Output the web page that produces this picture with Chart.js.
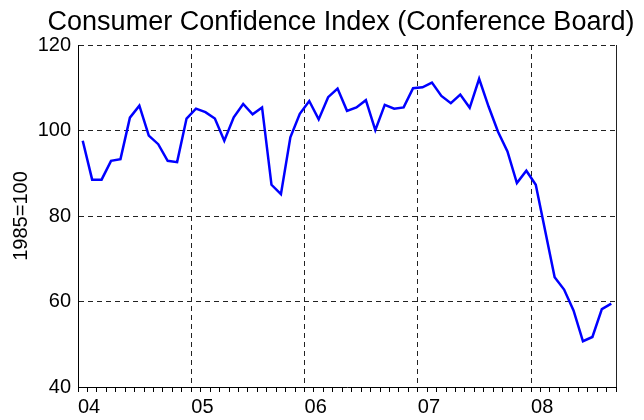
<!DOCTYPE html>
<html>
<head>
<meta charset="utf-8">
<script src="https://cdn.jsdelivr.net/npm/chart.js@4/dist/chart.umd.min.js"></script>
<style>
  html,body{margin:0;padding:0;background:#fff;}
  #wrap{width:644px;height:420px;position:relative;}
</style>
</head>
<body>
<div id="wrap"><canvas id="cci"></canvas></div>
<script>
const TITLE='Consumer Confidence Index (Conference Board)';
const Y_LABEL='1985=100';
const yearLabels=['04','05','06','07','08'];
// monthly index, Jan 2004 .. Sep 2008
const cci2004=[97.6,88.5,88.5,92.9,93.3,103.0,105.8,98.8,96.8,92.9,92.6,102.8];
const cci2005=[105.1,104.3,102.8,97.6,103.1,106.2,103.8,105.4,87.3,85.1,98.4,103.9];
const cci2006=[106.9,102.6,107.8,109.8,104.6,105.4,107.1,100.1,106.0,105.1,105.4,109.9];
const cci2007=[110.1,111.2,108.1,106.4,108.4,105.3,112.1,105.6,99.7,95.1,87.7,90.6];
const cci2008=[87.3,76.5,65.7,62.8,57.9,50.7,51.7,58.2,59.5];
const yTicks=[40,60,80,100,120];

const values=[...cci2004,...cci2005,...cci2006,...cci2007,...cci2008];
// each month sits in the middle of its slot on a month-based linear axis
const points=values.map((v,i)=>({x:i+0.5,y:v}));
const FONT='"Liberation Sans", Arial, Helvetica, sans-serif';
const DASH=[5,4];

const titlePlugin={
  id:'topTitle',
  afterDraw(chart){
    const c=chart.ctx;
    c.save();
    c.font='27px '+FONT;
    c.fillStyle='#000';
    c.textAlign='center';
    c.textBaseline='alphabetic';
    c.fillText(TITLE,341,30);
    c.restore();
  }
};

new Chart(document.getElementById('cci'),{
  type:'line',
  data:{datasets:[{
    label:'CCI',data:points,borderColor:'#0000ff',backgroundColor:'transparent',
    borderWidth:2.5,pointRadius:0,tension:0,fill:false
  }]},
  options:{
    responsive:true,maintainAspectRatio:false,animation:false,devicePixelRatio:1,
    layout:{padding:{top:45,right:28,left:0,bottom:0}},
    plugins:{legend:{display:false},tooltip:{enabled:false}},
    scales:{
      x:{
        type:'linear',min:0,max:12*yearLabels.length-3,
        afterFit:s=>{s.height=33;},
        ticks:{
          stepSize:1,autoSkip:false,maxRotation:0,align:'start',padding:3,
          color:'#000',font:{family:FONT,size:20},
          callback:v=>v%12===0?yearLabels[v/12]:''
        },
        grid:{
          color:ctx=>{const v=ctx.tick.value;return v===0?'transparent':(v%12===0||v===57)?'#222':'transparent';},
          lineWidth:1,tickColor:'#000',tickLength:5,tickBorderDash:[]
        },
        border:{color:'#000',width:1,dash:ctx=>ctx.tick&&ctx.tick.value===57?[]:DASH}
      },
      y:{
        min:yTicks[0],max:yTicks[yTicks.length-1],
        afterFit:s=>{s.width=78;},
        afterBuildTicks:s=>{s.ticks=yTicks.map(v=>({value:v}));},
        ticks:{padding:7,color:'#000',font:{family:FONT,size:20}},
        grid:{
          color:ctx=>ctx.tick&&ctx.tick.value===40?'transparent':'#222',
          lineWidth:1,drawTicks:false
        },
        border:{color:'#000',width:1,dash:DASH},
        title:{display:true,text:Y_LABEL,color:'#000',font:{family:FONT,size:20},padding:{top:9.5,bottom:0}}
      }
    }
  },
  plugins:[titlePlugin]
});
</script>
</body>
</html>
